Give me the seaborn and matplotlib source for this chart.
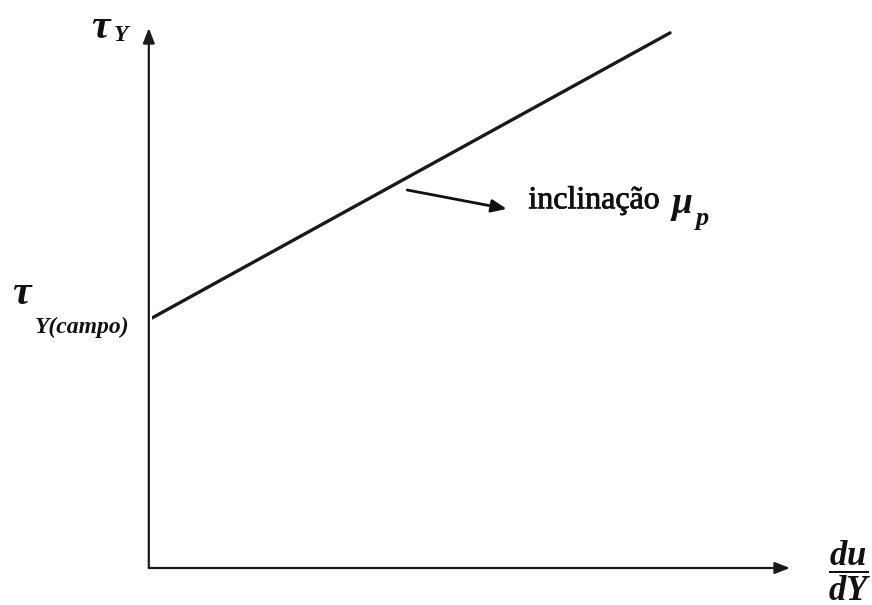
import matplotlib
matplotlib.use("Agg")
import matplotlib.pyplot as plt
import matplotlib.patheffects as pe
import seaborn as sns
import pandas as pd

# Bingham plastic: shear stress vs. shear rate
shear_rate = [0.0, 8.12]
shear_stress = [4.63, 9.91]

sns.set_style("white")
plt.rcParams["font.family"] = ["Liberation Serif", "DejaVu Serif"]
plt.rcParams["mathtext.fontset"] = "custom"
plt.rcParams["mathtext.rm"] = "Liberation Serif:bold"
plt.rcParams["mathtext.it"] = "Liberation Serif:italic:bold"
plt.rcParams["mathtext.bf"] = "Liberation Serif:bold"

W, H = 872, 605
fig = plt.figure(figsize=(W / 100, H / 100), dpi=100)
ax = fig.add_axes([152 / W, (H - 568) / H, (790 - 152) / W, (568 - 28) / H])
ax.set_xlim(0, 10)
ax.set_ylim(0, 10)
ax.axis("off")

df = pd.DataFrame({"rate": shear_rate, "stress": shear_stress})
sns.lineplot(data=df, x="rate", y="stress", ax=ax, color="#1a1a1a", linewidth=2.4)

# axes drawn as arrows from the origin
arrow_kw = dict(arrowstyle="-|>,head_length=0.9,head_width=0.35", color="#1a1a1a",
                linewidth=1.6, shrinkA=0, shrinkB=0)
ax.annotate("", xy=(10, 0), xytext=(-0.05, 0), arrowprops=arrow_kw, annotation_clip=False)
ax.annotate("", xy=(-0.05, 10), xytext=(-0.05, 0), arrowprops=arrow_kw, annotation_clip=False)

ink = "#111111"
heavy = [pe.withStroke(linewidth=0.6, foreground=ink)]
tau_kw = dict(fontsize=30, fontweight="bold", fontstyle="italic", color=ink)
sub_kw = dict(fontsize=17, fontweight="bold", fontstyle="italic", color=ink)

# vertical axis label
ax.text(-0.66, 10.0, "τ", ha="right", va="center", **tau_kw)
ax.text(-0.38, 9.87, "Y", ha="right", va="center", **sub_kw)

# yield stress label at the intercept
ax.text(-1.9, shear_stress[0] + 0.45, "τ", ha="right", va="center", **tau_kw)
ax.text(-0.36, shear_stress[0] - 0.17, "Y(campo)", ha="right", va="center", **sub_kw)

# horizontal axis label
ax.text(10.94, -0.04, r"$\dfrac{du}{dY}$", fontsize=25, ha="center", va="center", color=ink)

# slope annotation
ax.annotate("", xy=(5.56, 6.65), xytext=(4.0, 7.0),
            arrowprops=dict(arrowstyle="-|>,head_length=0.9,head_width=0.38", color=ink,
                            linewidth=2.0, shrinkA=0, shrinkB=0))
ax.text(5.9, 6.8, "inclinação", fontsize=23, ha="left", va="center", color=ink,
        path_effects=heavy)
ax.text(8.12, 6.7, r"$\mu$", fontsize=27, ha="left", va="center", color=ink)
ax.text(8.5, 6.42, r"$p$", fontsize=19, ha="left", va="center", color=ink)

fig.savefig("out.png", dpi=100)
